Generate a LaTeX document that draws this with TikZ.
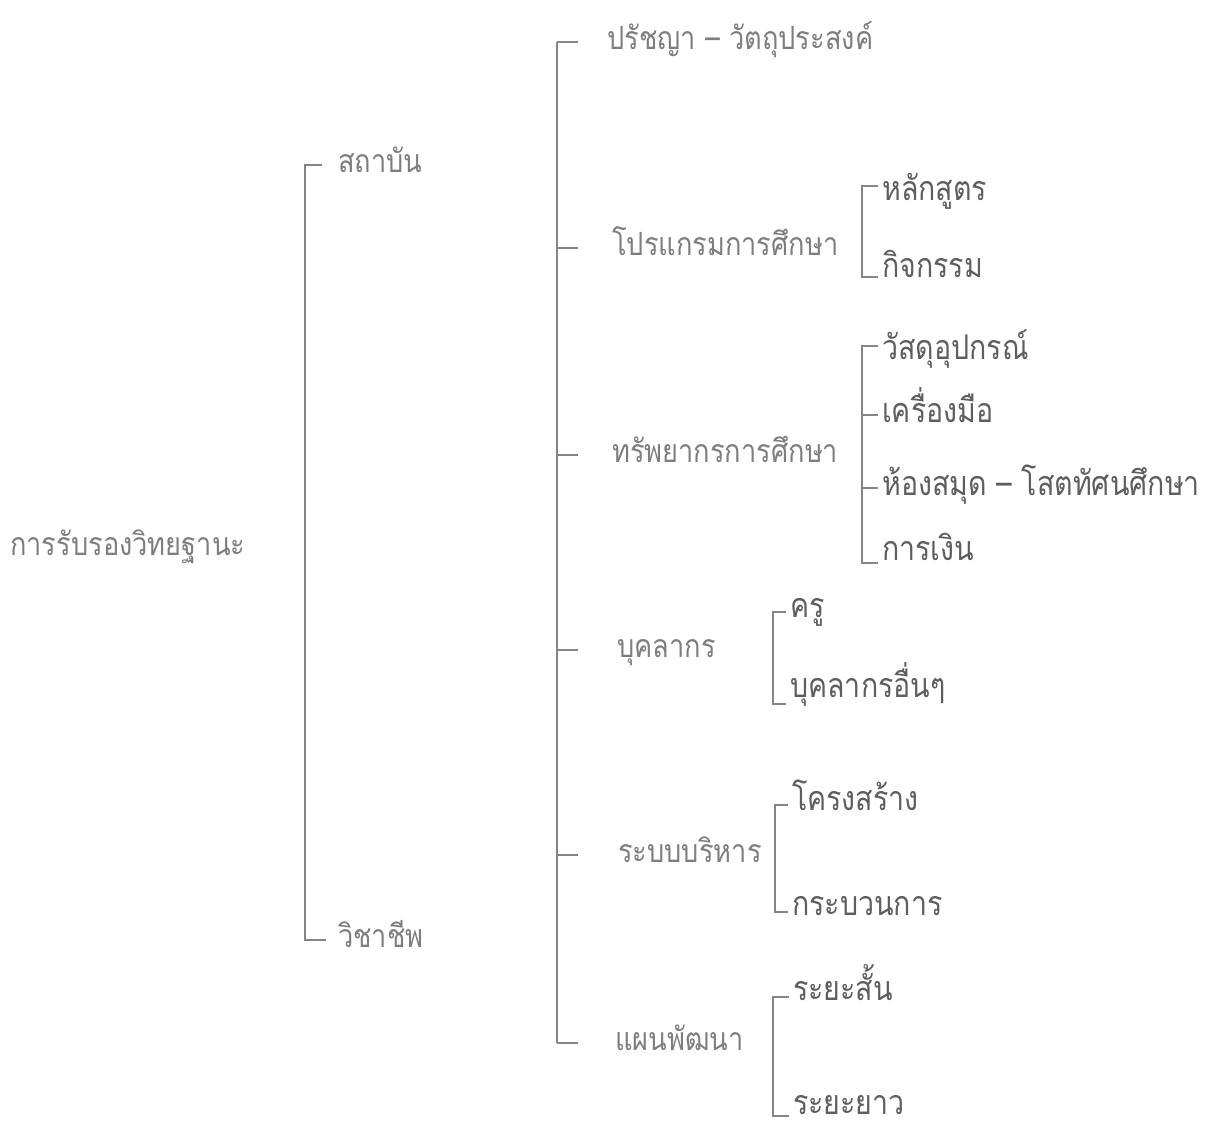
\documentclass[tikz,border=0pt]{standalone}
\usepackage{fontspec}
\newfontfamily\thaiA[Script=Thai,FakeStretch=0.85]{Loma}
\newfontfamily\thaiB[Script=Thai,FakeStretch=0.84]{Loma}
\usetikzlibrary{calc}
\definecolor{txt}{HTML}{7e7e7e}
\definecolor{txtd}{HTML}{5e5e5e}
\definecolor{ln}{HTML}{858585}
\begin{document}
\begin{tikzpicture}[x=1pt,y=-1pt,
  lbl/.style={font=\thaiA\fontsize{32}{38}\selectfont, text=txt, inner sep=0pt, anchor=west, text height=22pt, text depth=7pt},
  sub/.style={lbl, font=\thaiB\fontsize{34}{40}\selectfont, text=txtd},
  line/.style={draw=ln, line width=1.3pt}]
\useasboundingbox[fill=white] (0,0) rectangle (1205,1130);

% root
\node[lbl] (root) at (10,548) {การรับรองวิทยฐานะ};
% level 1
\node[lbl] (inst) at (338,165) {สถาบัน};
\node[lbl] (prof) at (338,940) {วิชาชีพ};
% level 2
\node[lbl] (phil) at (607,42) {ปรัชญา – วัตถุประสงค์};
\node[lbl] (prog) at (612,248) {โปรแกรมการศึกษา};
\node[lbl] (res) at (612,455) {ทรัพยากรการศึกษา};
\node[lbl] (pers) at (617,650) {บุคลากร};
\node[lbl] (adm) at (618,855) {ระบบบริหาร};
\node[lbl] (plan) at (615,1043) {แผนพัฒนา};
% level 3
\node[sub] (curr) at (882,193) {หลักสูตร};
\node[sub] (act) at (882,270) {กิจกรรม};
\node[sub] (mat) at (882,352) {วัสดุอุปกรณ์};
\node[sub] (tool) at (882,415) {เครื่องมือ};
\node[sub] (lib) at (882,488) {ห้องสมุด – โสตทัศนศึกษา};
\node[sub] (fin) at (882,553) {การเงิน};
\node[sub] (teach) at (790,610) {ครู};
\node[sub] (other) at (790,690) {บุคลากรอื่นๆ};
\node[sub] (struct) at (792,803) {โครงสร้าง};
\node[sub] (proc) at (792,908) {กระบวนการ};
\node[sub] (short) at (793,993) {ระยะสั้น};
\node[sub] (long) at (793,1107) {ระยะยาว};

% spines
\coordinate (sA) at (305,0);
\coordinate (sB) at (557,0);
\coordinate (sC) at (862,0);
\coordinate (sD) at (773,0);
\coordinate (sE) at (775,0);

% bracket: institution / profession
\draw[line] ([xshift=-16pt]inst.west) -- (sA |- inst.west) -- (sA |- prof.west) -- ([xshift=-12pt]prof.west);

% main bracket
\draw[line] (sB |- phil.west) -- (sB |- plan.west);
\foreach \n in {phil,prog,res,pers,adm,plan}
  \draw[line] (sB |- \n.west) -- ++(21,0);

% programme
\draw[line] ([xshift=-4pt,yshift=7pt]curr.west) -- ([yshift=7pt]sC |- curr.west) -- ([yshift=-7pt]sC |- act.west) -- ([xshift=-4pt,yshift=-7pt]act.west);
% resources
\draw[line] ([xshift=-4pt,yshift=6pt]mat.west) -- ([yshift=6pt]sC |- mat.west) -- ([yshift=-10pt]sC |- fin.west) -- ([xshift=-4pt,yshift=-10pt]fin.west);
\draw[line] (sC |- tool.west) -- ([xshift=-4pt]tool.west);
\draw[line] (sC |- lib.west) -- ([xshift=-4pt]lib.west);
% personnel
\draw[line] ([xshift=-4pt,yshift=-2pt]teach.west) -- ([yshift=-2pt]sD |- teach.west) -- ([yshift=-14pt]sD |- other.west) -- ([xshift=-4pt,yshift=-14pt]other.west);
% administration
\draw[line] ([xshift=-4pt,yshift=-2pt]struct.west) -- ([yshift=-2pt]sE |- struct.west) -- ([yshift=-4pt]sE |- proc.west) -- ([xshift=-4pt,yshift=-4pt]proc.west);
% plan
\draw[line] ([xshift=-4pt,yshift=-4pt]short.west) -- ([yshift=-4pt]sD |- short.west) -- ([yshift=-9pt]sD |- long.west) -- ([xshift=-4pt,yshift=-9pt]long.west);
\end{tikzpicture}
\end{document}
